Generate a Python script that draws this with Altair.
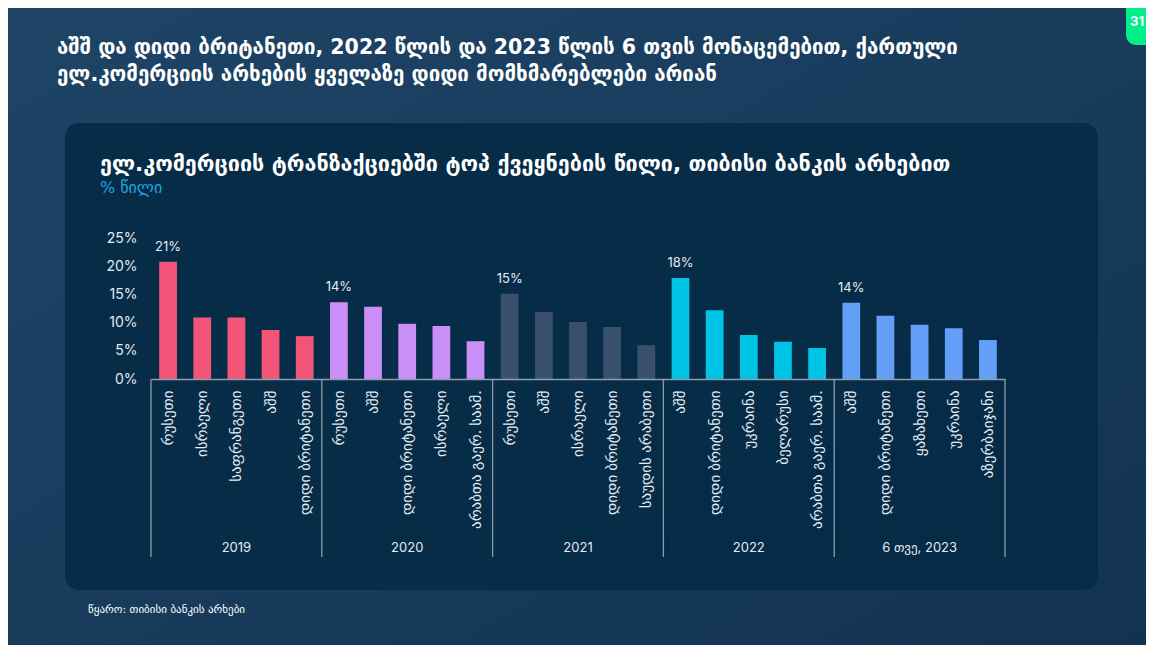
import altair as alt
import pandas as pd

# ---- data ----
groups = ["2019", "2020", "2021", "2022", "6 თვე, 2023"]

countries_2019 = ["რუსეთი", "ისრაელი", "საფრანგეთი", "აშშ", "დიდი ბრიტანეთი"]
values_2019 = [20.8, 10.9, 10.9, 8.7, 7.6]

countries_2020 = ["რუსეთი", "აშშ", "დიდი ბრიტანეთი", "ისრაელი", "არაბთა გაერ. საამ."]
values_2020 = [13.6, 12.8, 9.8, 9.4, 6.7]

countries_2021 = ["რუსეთი", "აშშ", "ისრაელი", "დიდი ბრიტანეთი", "საუდის არაბეთი"]
values_2021 = [15.1, 11.9, 10.1, 9.2, 6.0]

countries_2022 = ["აშშ", "დიდი ბრიტანეთი", "უკრაინა", "ბელარუსი", "არაბთა გაერ. საამ."]
values_2022 = [17.9, 12.2, 7.8, 6.6, 5.5]

countries_2023 = ["აშშ", "დიდი ბრიტანეთი", "ყაზახეთი", "უკრაინა", "აზერბაიჯანი"]
values_2023 = [13.5, 11.2, 9.6, 9.0, 6.9]

group_colors = ["#f25578", "#c98ff7", "#38506e", "#00c4e6", "#639ff7"]
y_ticks = [0, 5, 10, 15, 20, 25]

title_line1 = "აშშ და დიდი ბრიტანეთი, 2022 წლის და 2023 წლის 6 თვის მონაცემებით, ქართული"
title_line2 = "ელ.კომერციის არხების ყველაზე დიდი მომხმარებლები არიან"
chart_title = "ელ.კომერციის ტრანზაქციებში ტოპ ქვეყნების წილი, თიბისი ბანკის არხებით"
chart_subtitle = "% წილი"
source_note = "წყარო: თიბისი ბანკის არხები"
page_no = "31"

# ---- build table ----
all_countries = [countries_2019, countries_2020, countries_2021, countries_2022, countries_2023]
all_values = [values_2019, values_2020, values_2021, values_2022, values_2023]
rows = []
for gi, (g, cs, vs) in enumerate(zip(groups, all_countries, all_values)):
    for ri, (c, v) in enumerate(zip(cs, vs)):
        rows.append({"group": g, "key": f"{gi}|{c}", "country": c, "value": v, "rank": ri + 1})
df = pd.DataFrame(rows)
keys = list(df["key"])

FONT = "Inter, DejaVu Sans"
GEO = "DejaVu Sans"
LIGHT = "#e4eaf1"
LINE = "#8f9cab"

W, H = 854, 141
PAD = {"left": 143, "top": 230, "right": 141, "bottom": 266}

xscale = alt.Scale(domain=keys, paddingInner=0, paddingOuter=0)
yscale = alt.Scale(domain=[0, 25], nice=False)

x_axis = alt.Axis(labelExpr="split(datum.value, '|')[1]", labelAngle=-90, labelFont=FONT,
                  labelFontSize=15, labelColor=LIGHT, labelPadding=11, ticks=False,
                  domainColor=LINE, domainWidth=1.5, labelLimit=200, labelOverlap=False, zindex=1)
y_axis = alt.Axis(values=y_ticks, labelExpr="datum.value + '%'", labelFont=FONT, labelFontSize=14,
                  labelColor=LIGHT, labelPadding=14, ticks=False, domain=False, grid=False,
                  labelOverlap=False, zindex=1)

one = pd.DataFrame({"a": [0]})

# background slide with gradient
bg = alt.Chart(one).mark_rect(
    color=alt.LinearGradient(
        gradient="linear", x1=0, y1=0, x2=1, y2=1,
        stops=[alt.GradientStop(offset=0, color="#1e4466"),
               alt.GradientStop(offset=0.6, color="#173a5a"),
               alt.GradientStop(offset=1, color="#123350")],
    )
).encode(
    x=alt.value(-PAD["left"]), x2=alt.value(W + PAD["right"]),
    y=alt.value(-PAD["top"]), y2=alt.value(H + PAD["bottom"]),
)

panel = alt.Chart(one).mark_rect(color="#062b47", cornerRadius=14, opacity=0.97).encode(
    x=alt.value(-86), x2=alt.value(947), y=alt.value(-115), y2=alt.value(352)
)

badge = alt.Chart(one).mark_rect(color="#00ef8a", cornerRadius=10).encode(
    x=alt.value(975), x2=alt.value(1012), y=alt.value(-250), y2=alt.value(-193)
)
badge_txt = alt.Chart(one).mark_text(
    text=page_no, font=FONT, fontSize=13, fontWeight="bold", color="white", align="center", baseline="middle"
).encode(x=alt.value(986), y=alt.value(-216))


def txt(s, x, y, size, color, weight="normal", font=GEO):
    return alt.Chart(one).mark_text(
        text=s, font=font, fontSize=size, fontWeight=weight, color=color, align="left", baseline="middle"
    ).encode(x=alt.value(x), y=alt.value(y))


t1 = txt(title_line1, -94, -190, 20.5, "white", "bold")
t2 = txt(title_line2, -94, -163, 20.5, "white", "bold")
t3 = txt(chart_title, -51, -73, 21.5, "white", "bold")
t4 = txt(chart_subtitle, -51, -50, 16, "#1ea6e6")
t5 = txt(source_note, -63, 372, 11, "white")

bars = alt.Chart(df).mark_bar(width={"band": 0.52}).encode(
    x=alt.X("key:N", scale=xscale, title=None, axis=x_axis),
    y=alt.Y("value:Q", scale=yscale, title=None, axis=y_axis),
    color=alt.Color("group:N", scale=alt.Scale(domain=groups, range=group_colors), legend=None),
)

labels = alt.Chart(df).transform_filter("datum.rank == 1").transform_calculate(
    lab="format(round(datum.value), 'd') + '%'"
).mark_text(font=FONT, fontSize=13, color=LIGHT, baseline="bottom", dy=-8).encode(
    x=alt.X("key:N", scale=xscale, title=None, axis=x_axis),
    y=alt.Y("value:Q", scale=yscale, title=None, axis=y_axis),
    text="lab:N",
)

sep_start = alt.Chart(df).transform_filter("datum.rank == 1").mark_rule(color=LINE, strokeWidth=1.3).encode(
    x=alt.X("key:N", scale=xscale, title=None, axis=x_axis, bandPosition=0),
    y=alt.value(H), y2=alt.value(319),
)
sep_end = alt.Chart(df).transform_filter(f"datum.key == '{keys[-1]}'").mark_rule(color=LINE, strokeWidth=1.3).encode(
    x=alt.X("key:N", scale=xscale, title=None, axis=x_axis, bandPosition=1),
    y=alt.value(H), y2=alt.value(319),
)

years = alt.Chart(df).transform_filter("datum.rank == 3").mark_text(
    font=FONT, fontSize=13, color=LIGHT, baseline="middle", align="center"
).encode(
    x=alt.X("key:N", scale=xscale, title=None, axis=x_axis),
    y=alt.value(310),
    text="group:N",
)

chart = alt.layer(
    bg, panel, badge, badge_txt, t1, t2, t3, t4, t5, bars, labels, sep_start, sep_end, years
).properties(
    width=W, height=H,
    autosize=alt.AutoSizeParams(type="none"),
    padding=PAD,
    background="#173a5a",
).configure_view(stroke=None)

chart.save("out.html", embed_options={"renderer": "svg", "actions": False})
